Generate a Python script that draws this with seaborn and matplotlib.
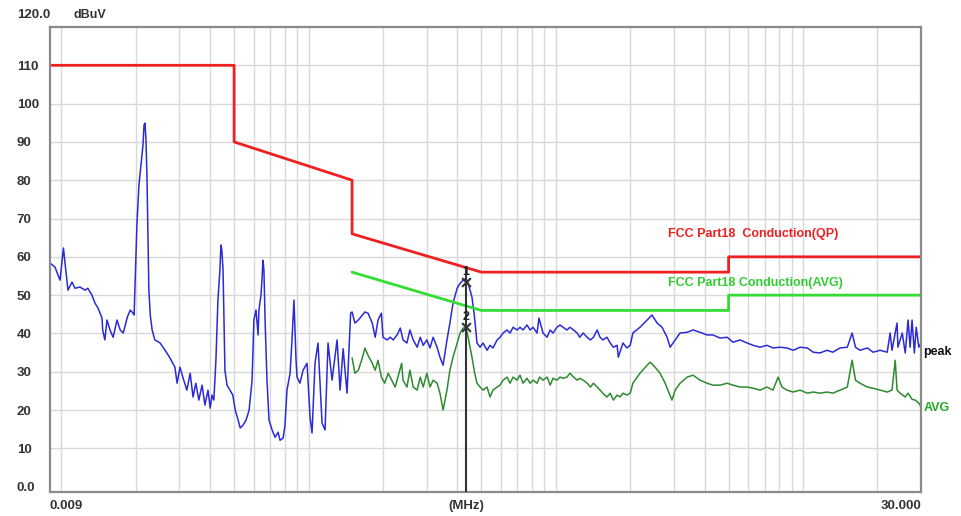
import matplotlib
matplotlib.use("Agg")
import matplotlib.pyplot as plt
import seaborn as sns
import pandas as pd
from matplotlib.transforms import blended_transform_factory
from matplotlib.ticker import NullFormatter

# ---------------- data (MHz, dBuV) ----------------
peak_lo_freq = [0.009, 0.00943, 0.00988, 0.0102, 0.01035, 0.01064, 0.01105, 0.01136, 0.0119,
                0.01247, 0.0128, 0.0133, 0.01369, 0.01408, 0.01461, 0.0147, 0.0150, 0.0153,
                0.01574, 0.0162, 0.0168, 0.0173, 0.0178, 0.0185, 0.0190, 0.0195, 0.0197,
                0.0200, 0.0202, 0.0206, 0.0210, 0.0214, 0.0216, 0.0218, 0.0220, 0.0222,
                0.0224, 0.0226, 0.0229, 0.0233, 0.0239, 0.0251, 0.0263, 0.0275, 0.0288,
                0.0294, 0.0302, 0.0310, 0.0322, 0.0332, 0.0341, 0.0350, 0.0360, 0.0371,
                0.0381, 0.0392, 0.0400, 0.0407, 0.0414, 0.0422, 0.0430, 0.0434, 0.0438,
                0.0442, 0.0446, 0.0451, 0.0455, 0.0459, 0.0468, 0.0481, 0.0494, 0.0505,
                0.0519, 0.0529, 0.0544, 0.0559, 0.0575, 0.0591, 0.0601, 0.0613, 0.0625,
                0.0630, 0.0642, 0.0648, 0.0654, 0.0660, 0.0667, 0.0679, 0.0692, 0.0712,
                0.0732, 0.0753, 0.0767, 0.0789, 0.0803, 0.0818, 0.0842, 0.0857, 0.0873,
                0.0890, 0.0898, 0.0923, 0.0950, 0.0986, 0.1014, 0.1033, 0.1062, 0.1092,
                0.1134, 0.1166, 0.1199, 0.1245, 0.1304, 0.1341, 0.1380, 0.1431, 0.1480]
peak_lo_val = [58.4, 57.3, 53.9, 62.3, 58.4, 51.3, 53.4, 51.8, 52.1,
               51.3, 51.8, 50.0, 47.9, 46.6, 44.0, 40.9, 38.3, 43.5,
               40.9, 39.0, 43.5, 40.9, 40.1, 44.3, 46.1, 45.3, 44.8,
               59.1, 67.7, 78.7, 83.9, 89.2, 94.4, 94.9, 90.5, 81.3,
               67.0, 51.3, 44.8, 40.9, 38.3, 37.5, 35.6, 33.6, 31.2,
               27.0, 31.2, 28.6, 25.2, 29.6, 23.4, 27.0, 22.6, 26.5,
               21.3, 25.2, 20.5, 23.9, 22.6, 33.0, 48.7, 52.6, 56.5,
               63.1, 61.7, 56.5, 43.5, 30.4, 26.5, 25.2, 23.9, 20.0,
               17.4, 15.3, 16.1, 17.4, 20.0, 27.8, 43.5, 46.1, 39.6,
               46.1, 50.0, 53.9, 59.1, 56.5, 43.5, 27.8, 17.4, 14.8,
               12.9, 14.2, 12.1, 12.7, 16.1, 25.2, 29.6, 38.3, 48.7,
               33.0, 28.6, 27.0, 30.4, 32.2, 18.1, 14.0, 32.2, 37.5,
               16.6, 14.8, 37.5, 27.8, 38.3, 25.2, 36.0, 24.4, 45.3]

peak_hi_freq = [0.150, 0.154, 0.159, 0.165, 0.169, 0.174, 0.181, 0.186, 0.191, 0.197,
                0.200, 0.208, 0.214, 0.220, 0.228, 0.235, 0.241, 0.250, 0.257, 0.265,
                0.275, 0.283, 0.291, 0.301, 0.310, 0.319, 0.331, 0.340, 0.350, 0.363,
                0.373, 0.384, 0.399, 0.410, 0.422, 0.433, 0.442, 0.458, 0.467, 0.476,
                0.480, 0.494, 0.508, 0.527, 0.542, 0.557, 0.579, 0.595, 0.612, 0.635,
                0.653, 0.672, 0.697, 0.717, 0.737, 0.765, 0.787, 0.809, 0.840, 0.855,
                0.888, 0.922, 0.949, 0.975, 1.01, 1.04, 1.07, 1.11, 1.14, 1.18,
                1.22, 1.25, 1.29, 1.34, 1.38, 1.42, 1.47, 1.51, 1.55, 1.61,
                1.66, 1.71, 1.77, 1.79, 1.87, 1.94, 2.00, 2.05, 2.19, 2.34,
                2.45, 2.57, 2.69, 2.82, 2.90, 2.98, 3.18, 3.40, 3.59, 3.83,
                4.09, 4.32, 4.62, 4.93, 5.21, 5.56, 5.94, 6.28, 6.70, 7.15,
                7.56, 8.07, 8.61, 9.12, 9.73, 10.4, 11.0, 11.7, 12.5, 13.2,
                14.1, 15.1, 15.8, 16.3, 17.0, 18.2, 19.2, 20.5, 21.9, 22.5,
                22.9, 24.0, 24.2, 25.2, 25.9, 26.6, 27.1, 27.6, 28.2, 28.7,
                29.4, 30.0]
peak_hi_val = [45.6, 42.7, 43.5, 44.8, 45.6, 45.3, 42.7, 39.0, 43.5, 45.3,
               39.0, 38.3, 39.0, 38.3, 39.6, 41.4, 38.3, 37.5, 40.9, 38.3,
               36.4, 39.0, 36.9, 38.3, 36.2, 39.0, 36.4, 33.8, 31.7, 38.3,
               42.7, 47.9, 51.8, 53.1, 53.9, 54.4, 53.1, 49.5, 45.3, 40.1,
               37.5, 36.4, 37.5, 35.6, 36.9, 36.2, 38.3, 39.0, 40.1, 40.9,
               40.1, 41.6, 40.9, 41.6, 40.9, 42.2, 40.9, 41.6, 40.1, 44.0,
               40.1, 39.0, 40.9, 40.1, 41.6, 42.2, 41.6, 40.9, 41.6, 40.9,
               40.1, 39.0, 40.1, 39.0, 38.3, 39.0, 40.9, 39.0, 38.3, 39.0,
               37.5, 36.4, 36.9, 33.8, 37.5, 36.2, 36.9, 40.1, 41.6, 43.5,
               44.8, 42.7, 41.6, 39.0, 36.4, 37.5, 40.1, 40.3, 40.9, 40.3,
               39.6, 39.6, 38.8, 39.0, 37.7, 38.3, 37.5, 36.9, 36.4, 36.9,
               36.2, 36.4, 36.2, 35.6, 36.4, 36.2, 35.1, 34.9, 35.6, 35.1,
               36.2, 36.4, 40.1, 36.4, 35.6, 36.2, 35.1, 35.6, 35.1, 40.1,
               35.6, 42.7, 36.4, 40.1, 34.9, 43.5, 36.4, 43.5, 34.9, 41.6,
               36.4, 37.5]

avg_freq = [0.150, 0.154, 0.159, 0.165, 0.169, 0.174, 0.181, 0.186, 0.191, 0.197,
            0.203, 0.210, 0.217, 0.224, 0.232, 0.238, 0.241, 0.250, 0.257, 0.265,
            0.275, 0.283, 0.291, 0.301, 0.310, 0.319, 0.331, 0.340, 0.350, 0.363,
            0.373, 0.384, 0.399, 0.410, 0.422, 0.433, 0.442, 0.458, 0.470, 0.480,
            0.494, 0.508, 0.527, 0.542, 0.557, 0.579, 0.595, 0.612, 0.635, 0.653,
            0.672, 0.697, 0.717, 0.737, 0.765, 0.787, 0.809, 0.840, 0.860, 0.888,
            0.922, 0.949, 0.975, 1.01, 1.04, 1.07, 1.11, 1.14, 1.18, 1.22,
            1.25, 1.29, 1.34, 1.38, 1.42, 1.47, 1.51, 1.55, 1.61, 1.66,
            1.71, 1.77, 1.82, 1.87, 1.94, 2.00, 2.05, 2.19, 2.34, 2.41,
            2.52, 2.64, 2.77, 2.84, 2.95, 3.04, 3.18, 3.40, 3.59, 3.83,
            4.09, 4.32, 4.62, 4.93, 5.21, 5.56, 5.94, 6.28, 6.70, 7.15,
            7.56, 7.93, 8.22, 8.61, 9.12, 9.73, 10.4, 11.0, 11.7, 12.5,
            13.2, 14.1, 15.1, 15.8, 16.3, 17.0, 18.2, 19.2, 20.5, 21.9,
            22.9, 23.6, 24.0, 24.7, 25.9, 26.6, 27.6, 28.4, 29.4, 30.0]
avg_val = [33.6, 29.6, 30.4, 33.6, 36.2, 34.3, 32.2, 30.4, 33.0, 28.6,
           27.0, 29.6, 27.8, 26.0, 29.6, 32.2, 27.8, 26.0, 30.4, 26.0,
           25.2, 28.6, 26.0, 29.6, 26.0, 27.8, 27.0, 24.4, 20.0, 25.2,
           30.4, 33.8, 37.5, 40.1, 41.4, 41.6, 39.0, 33.8, 29.6, 27.0,
           26.0, 25.2, 26.0, 23.4, 25.2, 26.0, 26.5, 27.8, 28.6, 27.0,
           28.6, 27.8, 29.1, 27.0, 28.3, 27.0, 27.8, 27.0, 28.6, 27.8,
           28.6, 26.5, 28.3, 27.8, 28.6, 28.3, 28.6, 29.6, 28.6, 27.8,
           28.3, 27.8, 27.0, 26.0, 27.0, 26.0, 25.2, 24.4, 23.4, 24.4,
           22.6, 23.9, 23.4, 24.4, 23.9, 24.4, 27.0, 29.6, 31.7, 32.5,
           31.2, 29.6, 27.0, 25.2, 22.6, 25.2, 27.0, 28.6, 29.1, 27.8,
           27.0, 26.5, 26.5, 27.0, 26.5, 26.0, 26.0, 25.7, 25.2, 26.0,
           25.2, 28.6, 26.0, 25.2, 24.7, 25.2, 24.4, 24.7, 24.4, 24.7,
           24.4, 25.2, 26.0, 33.0, 27.8, 27.0, 26.0, 25.7, 25.2, 24.7,
           25.2, 33.0, 25.2, 24.4, 23.4, 24.4, 22.8, 22.6, 21.8, 20.8]

qp_limit_freq = [0.009, 0.05, 0.05, 0.15, 0.15, 0.5, 5.0, 5.0, 30.0]
qp_limit_val = [110, 110, 90, 80, 66, 56, 56, 60, 60]
avg_limit_freq = [0.15, 0.5, 5.0, 5.0, 30.0]
avg_limit_val = [56, 46, 46, 50, 50]

marker_freq = [0.433, 0.433]
marker_val = [53.5, 41.6]
marker_names = ["1", "2"]

y_ticks = [0, 10, 20, 30, 40, 50, 60, 70, 80, 90, 100, 110]
y_tick_labels = ["0.0", "10", "20", "30", "40", "50", "60", "70", "80", "90", "100", "110"]
x_ticks = [0.009, 0.433, 30.0]
x_tick_labels = ["0.009", "(MHz)", "30.000"]
grid_freqs = [0.01, 0.02, 0.03, 0.04, 0.05, 0.06, 0.07, 0.08, 0.09,
              0.1, 0.2, 0.3, 0.4, 0.5, 0.6, 0.7, 0.8, 0.9,
              1, 2, 3, 4, 5, 6, 7, 8, 9, 10, 20]

# ---------------- styling ----------------
sns.set_style("white")
plt.rcParams["font.family"] = ["Liberation Sans", "DejaVu Sans"]

RED = "#ee2020"
LGREEN = "#33dd33"
BLUE = "#2b2bd6"
DGREEN = "#2e8a2e"
TXT = "#333333"

fig, ax = plt.subplots(figsize=(9.62, 5.16), dpi=100)
fig.subplots_adjust(left=50/962, right=921/962, top=1-27/516, bottom=1-492/516)
ax.set_xscale("log")

peak_df = pd.DataFrame({"f": peak_lo_freq + peak_hi_freq, "v": peak_lo_val + peak_hi_val})
avg_df = pd.DataFrame({"f": avg_freq, "v": avg_val})
qp_df = pd.DataFrame({"f": qp_limit_freq, "v": qp_limit_val})
al_df = pd.DataFrame({"f": avg_limit_freq, "v": avg_limit_val})

sns.lineplot(data=peak_df, x="f", y="v", ax=ax, color=BLUE, lw=1.1, estimator=None, sort=False)
sns.lineplot(data=avg_df, x="f", y="v", ax=ax, color=DGREEN, lw=1.1, estimator=None, sort=False)
sns.lineplot(data=qp_df, x="f", y="v", ax=ax, color=RED, lw=2.0, estimator=None, sort=False)
sns.lineplot(data=al_df, x="f", y="v", ax=ax, color=LGREEN, lw=2.0, estimator=None, sort=False)

ax.set_xlim(0.009, 30)
ax.set_ylim(-1.4, 120)

# marker line and markers
ax.vlines(marker_freq[0], -1.4, 57.0, color="#333333", lw=1.5, zorder=5)
sns.scatterplot(x=marker_freq, y=marker_val, ax=ax, marker="x", color="#333333", s=40,
                linewidth=1.5, zorder=6)
for f, v, n in zip(marker_freq, marker_val, marker_names):
    ax.text(f, v + 2.6, n, ha="center", va="center", fontsize=9, fontweight="bold",
            color="#222222", zorder=7)

# ticks and grid
ax.set_xticks(grid_freqs, minor=True)
ax.xaxis.set_minor_formatter(NullFormatter())
ax.set_xticks(x_ticks)
ax.set_xticklabels(x_tick_labels, fontsize=9.5, fontweight="bold", color=TXT)
xl = ax.get_xticklabels()
xl[0].set_ha("left")
xl[2].set_ha("right")
ax.set_yticks(y_ticks)
ax.set_yticklabels(y_tick_labels, fontsize=9.5, fontweight="bold", color=TXT)
for lab in ax.get_yticklabels():
    lab.set_ha("left")
ax.tick_params(axis="y", which="both", length=0, pad=24)
ax.tick_params(axis="x", which="both", length=0, pad=6)
ax.grid(False)
ax.grid(True, which="minor", axis="x", color="#d9d9d9", lw=1.0)
ax.grid(True, which="major", axis="y", color="#d9d9d9", lw=1.0)
ax.get_ygridlines()[0].set_visible(False)
ax.set_axisbelow(True)
ax.set_xlabel("")
ax.set_ylabel("")
for s in ax.spines.values():
    s.set_color("#8a8a8a")
    s.set_linewidth(1.6)

# texts
fig.text(17/962, 1-15/516, "120.0", ha="left", va="center", fontsize=9.5, fontweight="bold", color=TXT)
fig.text(73/962, 1-15/516, "dBuV", ha="left", va="center", fontsize=9, fontweight="bold", color=TXT)
ax.text(2.84, 65.9, "FCC Part18  Conduction(QP)", color=RED, fontsize=9, fontweight="bold",
        ha="left", va="center")
ax.text(2.84, 53.1, "FCC Part18 Conduction(AVG)", color="#33cc33", fontsize=9, fontweight="bold",
        ha="left", va="center")
tr = blended_transform_factory(ax.transAxes, ax.transData)
ax.text(1.003, 35.2, "peak", transform=tr, color="#111111", fontsize=9, fontweight="bold",
        ha="left", va="center")
ax.text(1.003, 20.6, "AVG", transform=tr, color="#22aa22", fontsize=9, fontweight="bold",
        ha="left", va="center")

fig.savefig("out.png", dpi=100)
